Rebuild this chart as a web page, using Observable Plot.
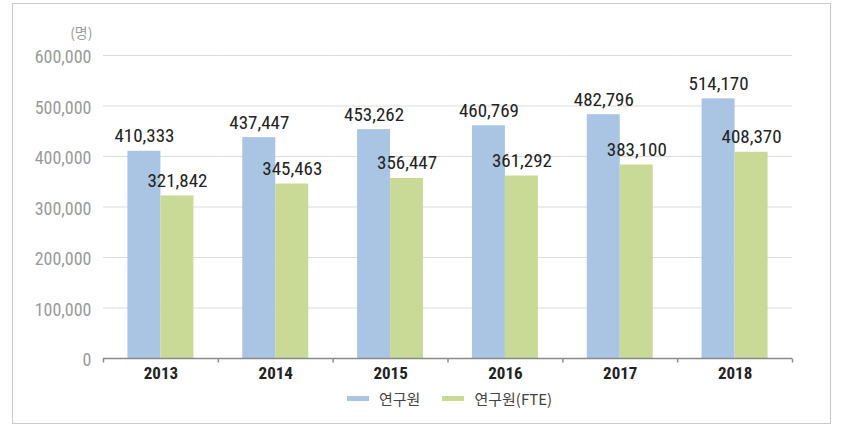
<!DOCTYPE html>
<html>
<head>
<meta charset="utf-8">
<script src="https://cdn.jsdelivr.net/npm/d3@7"></script>
<script src="https://cdn.jsdelivr.net/npm/@observablehq/plot@0.6"></script>
<style>
  html, body { margin: 0; padding: 0; background: #fff; }
  #wrap { position: relative; width: 842px; height: 438px; overflow: hidden; }
  #frame { position: absolute; left: 12px; top: 3px; width: 819px; height: 421px; border: 1px solid #c9c9c9; box-sizing: border-box; }
  #chart { position: absolute; left: 0; top: 0; }
  #legend { position: absolute; left: 336px; top: 388px; display: flex; align-items: center;
            font-family: "Noto Sans CJK KR", "Noto Sans", sans-serif; font-size: 15px; color: #444; }
  .item { display: flex; align-items: center; margin: 0 11px; }
  .sw { width: 22px; height: 5px; margin-right: 10px; }
</style>
</head>
<body>
<div id="wrap">
  <div id="frame"></div>
  <div id="chart"></div>
  <div id="legend"></div>
</div>
<script>
const years = ["2013", "2014", "2015", "2016", "2017", "2018"];
const series = ["연구원", "연구원(FTE)"];
const researchers = [410333, 437447, 453262, 460769, 482796, 514170];
const researchersFTE = [321842, 345463, 356447, 361292, 383100, 408370];
const yTicks = [0, 100000, 200000, 300000, 400000, 500000, 600000];
const unitLabel = "(명)";
const colors = ["#a9c5e3", "#c9d996"];

const data = [];
years.forEach((y, i) => {
  data.push({year: y, series: series[0], value: researchers[i]});
  data.push({year: y, series: series[1], value: researchersFTE[i]});
});

const numFont = "'Roboto Condensed', 'Roboto', sans-serif";
const fmt = d3.format(",");
const tickSymbol = { draw(ctx) { ctx.moveTo(0, 0); ctx.lineTo(0, 4); } };

const chart = Plot.plot({
  width: 842,
  height: 385,
  marginLeft: 103,
  marginRight: 50,
  marginTop: 55,
  marginBottom: 27,
  style: { fontFamily: numFont, background: "transparent" },
  fx: { domain: years, padding: 0, label: null, round: false },
  x: { domain: series, paddingInner: 0, paddingOuter: 0.74, axis: null, round: false },
  y: { domain: [0, 600000], label: null },
  color: { domain: series, range: colors },
  marks: [
    Plot.gridY(yTicks.filter(d => d > 0), { stroke: "#dcdcdc", strokeOpacity: 1 }),
    Plot.axisY(yTicks, { tickSize: 0, tickPadding: 12, dy: 2, fontSize: 18, fill: "#9a9a9a", tickFormat: fmt, label: null }),
    Plot.axisFx({ anchor: "bottom", tickSize: 0, tickPadding: 8, fontSize: 17, fontWeight: "bold", fill: "#222", label: null }),
    Plot.barY(data, { fx: "year", x: "series", y: "value", fill: "series" }),
    Plot.ruleY([0], { stroke: "#8a8a8a", strokeWidth: 1.5 }),
    Plot.dot(years, { fx: d => d, frameAnchor: "bottom-left", symbol: tickSymbol, fill: "none", stroke: "#8a8a8a", strokeWidth: 1.5 }),
    Plot.dot(years.slice(-1), { fx: d => d, frameAnchor: "bottom-right", symbol: tickSymbol, fill: "none", stroke: "#8a8a8a", strokeWidth: 1.5 }),
    Plot.text(data, { fx: "year", x: "series", y: "value", text: d => fmt(d.value), lineAnchor: "bottom", dy: -9, fontSize: 19, fill: "#222" }),
    Plot.text([unitLabel], { fx: () => years[0], frameAnchor: "top-left", textAnchor: "end", dx: -11, dy: -22, lineAnchor: "middle", fontSize: 14, fill: "#9a9a9a", fontFamily: "'Noto Sans CJK KR', sans-serif" })
  ]
});
document.getElementById("chart").appendChild(chart);

const legend = document.getElementById("legend");
series.forEach((s, i) => {
  const item = document.createElement("div");
  item.className = "item";
  const sw = document.createElement("span");
  sw.className = "sw";
  sw.style.background = colors[i];
  const t = document.createElement("span");
  t.textContent = s;
  item.appendChild(sw);
  item.appendChild(t);
  legend.appendChild(item);
});
</script>
</body>
</html>
